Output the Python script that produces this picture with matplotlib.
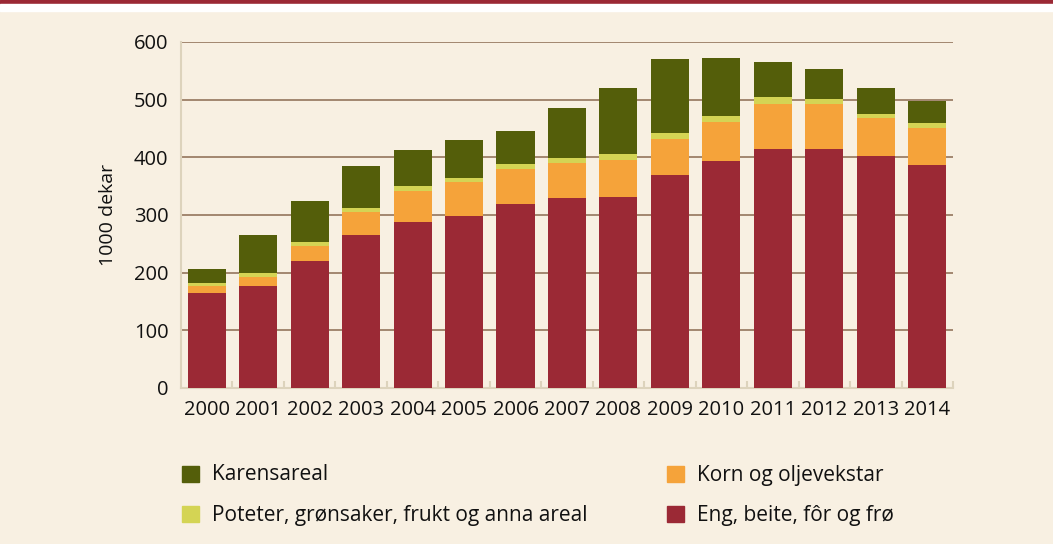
import matplotlib
matplotlib.use("Agg")
import matplotlib.pyplot as plt
from matplotlib.patches import Rectangle

plt.rcParams['font.family'] = ['Open Sans', 'DejaVu Sans']

# Data (1000 dekar)
years = ['2000', '2001', '2002', '2003', '2004', '2005', '2006', '2007',
         '2008', '2009', '2010', '2011', '2012', '2013', '2014']
eng = [164, 176, 221, 265, 287, 298, 319, 329, 331, 369, 393, 414, 414, 402, 386]
korn = [13, 16, 25, 40, 54, 60, 60, 61, 64, 62, 68, 78, 78, 66, 64]
poteter = [5, 7, 7, 7, 9, 7, 9, 8, 10, 11, 10, 12, 10, 8, 9]
karens = [24, 67, 72, 73, 62, 65, 57, 88, 116, 128, 102, 61, 51, 45, 39]

labels = ['Eng, beite, fôr og frø', 'Korn og oljevekstar',
          'Poteter, grønsaker, frukt og anna areal', 'Karensareal']
colors = ['#9B2935', '#F5A33A', '#D4D454', '#545E0A']
series = [eng, korn, poteter, karens]

bg = '#F8F0E2'
fig = plt.figure(figsize=(10.53, 5.44), dpi=100, facecolor=bg)
ax = fig.add_axes([0.1719, 0.2868, 0.7331, 0.636])
ax.set_facecolor(bg)

x = range(len(years))
bottom = [0] * len(years)
for vals, col, lab in zip(series, colors, labels):
    ax.bar(x, vals, bottom=bottom, width=0.74, color=col, label=lab, zorder=3)
    bottom = [b + v for b, v in zip(bottom, vals)]

ax.set_xlim(-0.5, len(years) - 0.5)
ax.set_ylim(0, 600)
ax.set_yticks(range(0, 601, 100))
ax.set_xticks(list(x))
ax.set_xticklabels(years)
ax.set_xticks([i + 0.5 for i in range(len(years))], minor=True)
ax.yaxis.grid(True, color='#9C7F66', linewidth=1.3, zorder=0)
ax.tick_params(axis='y', length=0, pad=9, labelsize=14.5, labelcolor='#111111')
ax.tick_params(axis='x', which='major', length=0, pad=9, labelsize=14.5,
               labelcolor='#111111')
ax.tick_params(axis='x', which='minor', direction='in', length=5,
               width=1.5, color='#DDD3BC')
for s in ['top', 'right']:
    ax.spines[s].set_visible(False)
ax.spines['left'].set_color('#DDD3BC')
ax.spines['bottom'].set_color('#DDD3BC')
ax.spines['left'].set_linewidth(1.5)
ax.spines['bottom'].set_linewidth(1.5)
ax.set_ylabel('1000 dekar', fontsize=14, labelpad=12, color='#111111')

# header band
fig.patches.append(Rectangle((0, 1 - 4 / 544), 1, 4 / 544, transform=fig.transFigure,
                             color='#9B2935', zorder=5))
fig.patches.append(Rectangle((0, 1 - 11 / 544), 1, 7 / 544, transform=fig.transFigure,
                             color='white', zorder=5))

# legend, laid out in two columns
order = [3, 2, 1, 0]
pos = [(182, 474), (182, 514), (667, 474), (667, 514)]
for idx, (px, py) in zip(order, pos):
    fig.patches.append(Rectangle((px / 1053, 1 - (py + 8) / 544), 17 / 1053, 16 / 544,
                                 transform=fig.transFigure, color=colors[idx]))
    fig.text((px + 30) / 1053, 1 - (py + 1) / 544, labels[idx], fontsize=15,
             va='center', ha='left', color='#111111')

fig.savefig('out.png', dpi=100, facecolor=bg)
